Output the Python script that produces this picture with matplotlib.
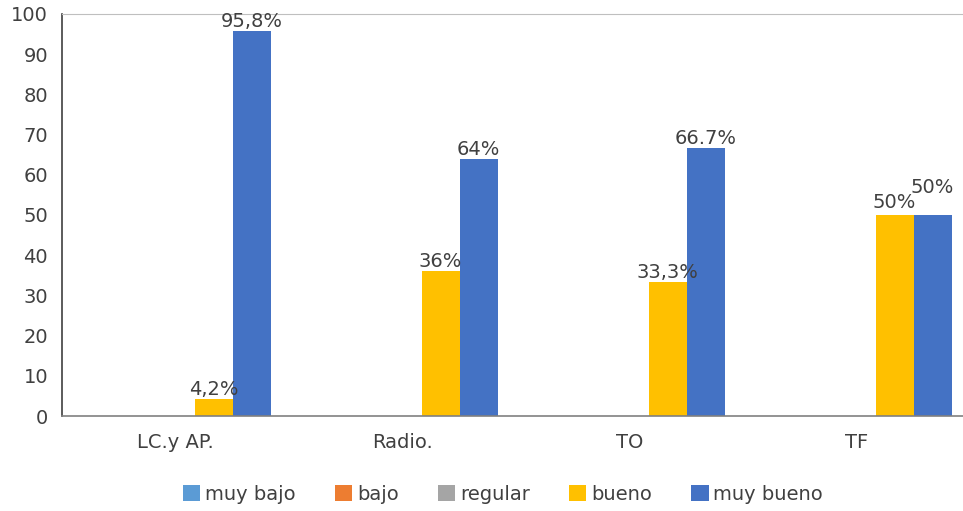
import matplotlib
matplotlib.use("Agg")
import matplotlib.pyplot as plt
import numpy as np

categories = ["LC.y AP.", "Radio.", "TO", "TF"]
series_names = ["muy bajo", "bajo", "regular", "bueno", "muy bueno"]
muy_bajo = [0, 0, 0, 0]
bajo = [0, 0, 0, 0]
regular = [0, 0, 0, 0]
bueno = [4.2, 36, 33.3, 50]
muy_bueno = [95.8, 64, 66.7, 50]
bueno_labels = ["4,2%", "36%", "33,3%", "50%"]
muy_bueno_labels = ["95,8%", "64%", "66.7%", "50%"]
colors = ["#5B9BD5", "#ED7D31", "#A5A5A5", "#FFC000", "#4472C4"]

plt.rcParams['font.family'] = ['DejaVu Sans']
fig = plt.figure(figsize=(9.63, 5.11), dpi=100)
W, H = 963, 511
left_px, bottom_px, top_px = 62, 416, 14
cat_w = 227.0
ax = fig.add_axes([left_px / W, 1 - bottom_px / H, (W - left_px) / W, (bottom_px - top_px) / H])
x = np.arange(len(categories))
bw = 38.0 / cat_w
all_series = [muy_bajo, bajo, regular, bueno, muy_bueno]
bars = []
for i, (vals, c, name) in enumerate(zip(all_series, colors, series_names)):
    b = ax.bar(x + (i - 2) * bw, vals, width=bw, color=c, label=name)
    bars.append(b)

txtc = "#404040"
fs = 14
for j, (rect, lab) in enumerate(zip(bars[3], bueno_labels)):
    dy = 3 if j == 3 else 0
    ax.annotate(lab, (rect.get_x() + rect.get_width() / 2, rect.get_height()),
                xytext=(0, dy), textcoords="offset pixels",
                ha="center", va="bottom", fontsize=fs, color=txtc)
for j, (rect, lab) in enumerate(zip(bars[4], muy_bueno_labels)):
    dy = 18 if j == 3 else 0
    ax.annotate(lab, (rect.get_x() + rect.get_width() / 2, rect.get_height()),
                xytext=(0, dy), textcoords="offset pixels",
                ha="center", va="bottom", fontsize=fs, color=txtc)

ax.set_xlim(-0.5, -0.5 + (W - left_px) / cat_w)
ax.set_ylim(0, 100)
ax.set_yticks(np.arange(0, 101, 10))
ax.set_xticks(x)
ax.set_xticklabels(categories)
ax.tick_params(axis='both', length=0, labelsize=fs, colors=txtc)
ax.tick_params(axis='y', pad=10)
ax.tick_params(axis='x', pad=12)
ax.spines["right"].set_visible(False)
ax.spines["top"].set_color("#BFBFBF")
ax.spines["top"].set_linewidth(0.8)
ax.spines["left"].set_color("#404040")
ax.spines["bottom"].set_color("#808080")
ax.spines["left"].set_linewidth(1.2)
ax.spines["bottom"].set_linewidth(1.2)

fig.legend(loc="center", bbox_to_anchor=(503 / W, 1 - 494 / H), ncol=5, frameon=False,
           fontsize=fs, handlelength=0.9, handleheight=0.9, handletextpad=0.25,
           columnspacing=2.0, labelcolor=txtc)

fig.savefig("out.png", dpi=100)
